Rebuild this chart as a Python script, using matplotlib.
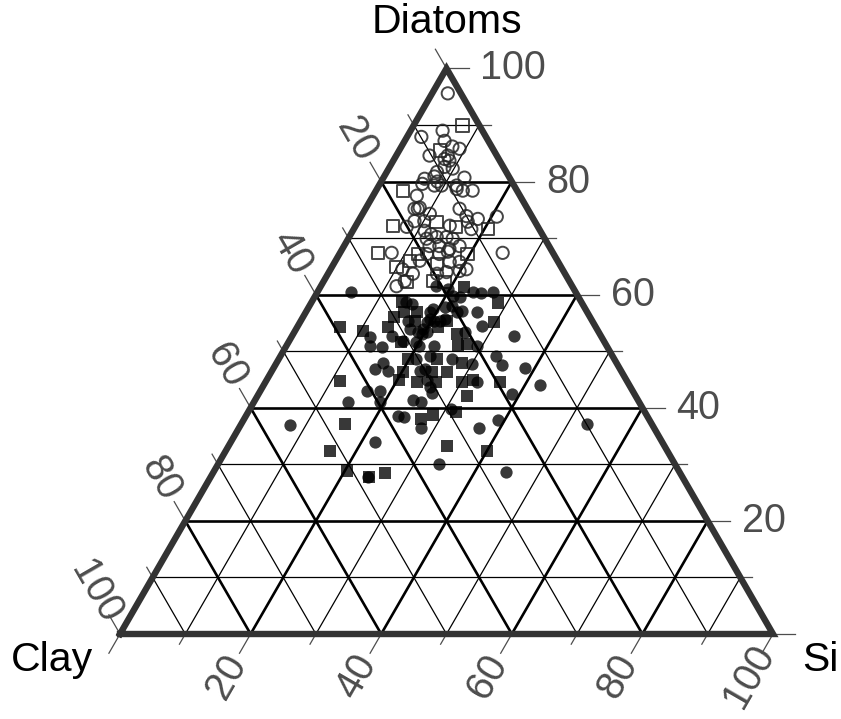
import numpy as np
import matplotlib
matplotlib.use("Agg")
import matplotlib.pyplot as plt

plt.rcParams['font.family'] = ['Liberation Sans', 'DejaVu Sans']

# ---- data: (Diatoms %, Si %) ; Clay = 100 - Diatoms - Si ----
open_circ_d = [95.6, 89.0, 87.9, 87.2, 86.2, 85.8, 84.6, 84.6, 84.0, 83.7, 82.3, 82.6, 81.7, 80.9,
               80.5, 80.7, 80.0, 79.3, 79.3, 79.3, 79.6, 78.4, 78.7, 78.4, 77.5, 75.2, 75.2, 75.4,
               74.3, 75.2, 73.9, 73.4, 73.8, 72.9, 72.0, 73.0, 73.0, 72.2, 71.6, 71.3, 70.7, 69.9,
               70.2, 70.2, 69.9, 68.6, 68.6, 68.1, 68.6, 67.4, 67.2, 67.2, 67.6, 66.0, 67.4, 64.5,
               63.7, 62.4, 61.5, 65.8, 65.8, 64.5, 64.0, 64.2, 63.7]
open_circ_s = [2.4, 4.9, 2.2, 6.1, 7.8, 9.1, 7.9, 5.1, 7.7, 8.6, 9.8, 8.4, 7.7, 7.7,
               6.4, 12.4, 8.6, 11.9, 8.5, 9.6, 6.5, 13.3, 12.2, 14.8, 6.7, 7.5, 8.0, 8.2,
               10.3, 14.4, 16.1, 18.1, 20.8, 16.8, 7.9, 8.6, 10.1, 14.4, 18.0, 11.0, 12.3, 12.0,
               13.4, 14.9, 16.0, 13.1, 14.6, 16.4, 17.7, 7.9, 13.4, 15.3, 16.4, 12.9, 24.9, 11.0,
               13.0, 12.4, 11.6, 17.6, 19.1, 20.8, 18.0, 19.9, 16.7]

open_sq_d = [89.9, 85.5, 78.4, 72.2, 72.9, 72.0, 71.6, 67.4, 66.0, 67.2, 67.2, 64.9, 65.4, 62.4, 62.2, 62.2]
open_sq_s = [7.5, 6.2, 4.1, 5.7, 12.0, 15.5, 20.5, 5.8, 11.4, 12.0, 19.6, 9.9, 15.9, 16.7, 18.6, 12.8]

fill_circ_d = [60.5, 60.5, 60.3, 60.5, 61.5, 61.0, 59.8, 59.6, 58.7, 58.3, 57.4, 56.9, 57.8, 58.0,
               57.1, 56.9, 56.9, 55.3, 55.1, 55.7, 55.3, 55.3, 55.7, 54.4, 53.9, 53.9, 53.4, 53.0,
               53.4, 53.4, 52.5, 52.7, 51.8, 51.6, 52.7, 50.9, 50.7, 50.9, 50.9, 50.9, 49.1, 48.6,
               49.1, 48.6, 48.0, 46.8, 46.5, 46.5, 46.8, 47.5, 47.0, 47.7, 45.0, 44.5, 44.1, 42.9,
               42.9, 43.6, 42.7, 42.4, 41.1, 41.1, 41.3, 41.1, 36.9, 38.5, 38.3, 36.5, 39.7, 36.5,
               37.8, 37.2, 33.9, 30.1, 27.7, 28.7]
fill_circ_s = [5.2, 23.8, 25.2, 26.8, 17.7, 19.7, 21.1, 22.2, 14.4, 15.5, 19.2, 19.0, 20.8, 21.9,
               23.8, 23.1, 26.2, 16.4, 19.4, 19.6, 20.5, 21.3, 21.9, 28.2, 17.4, 19.4, 18.9, 19.8,
               20.3, 26.1, 12.0, 15.3, 17.4, 19.6, 34.0, 12.8, 14.7, 20.4, 22.7, 29.2, 33.1, 21.1,
               22.9, 26.5, 16.2, 15.6, 17.8, 22.7, 23.3, 34.7, 38.5, 30.0, 24.5, 32.4, 42.2, 16.3,
               18.3, 25.6, 26.5, 38.8, 14.3, 19.2, 24.2, 25.6, 7.6, 23.3, 24.3, 27.8, 30.8, 36.7,
               39.0, 52.9, 22.1, 33.8, 24.1, 44.7]

fill_sq_d = [61.3, 58.7, 58.5, 56.9, 56.9, 56.0, 55.3, 55.3, 54.3, 55.1, 53.5, 54.3, 54.3, 53.0,
             51.6, 50.9, 51.2, 48.6, 48.6, 48.0, 46.3, 46.3, 46.3, 44.7, 45.0, 44.5, 44.5, 44.5,
             45.0, 44.5, 42.0, 37.1, 38.1, 38.8, 39.2, 32.4, 33.2, 32.3, 28.9, 27.8, 28.5]
fill_sq_s = [22.1, 13.8, 28.6, 15.1, 17.1, 14.0, 17.5, 22.4, 6.5, 29.8, 10.4, 13.9, 21.5, 25.1,
             17.3, 26.3, 27.5, 19.8, 24.2, 28.3, 20.2, 24.7, 26.9, 11.3, 20.3, 23.2, 26.2, 30.1,
             31.5, 35.9, 32.1, 15.9, 27.0, 28.5, 31.8, 15.9, 33.5, 40.0, 20.3, 24.2, 26.4]

grid_values = list(range(10, 100, 10))
tick_values = list(range(0, 101, 10))
label_values = [20, 40, 60, 80, 100]
axis_titles = ["Diatoms", "Clay", "Si"]

H = np.sqrt(3) / 2


def proj(d, s):
    d = np.asarray(d, float) / 100.0
    s = np.asarray(s, float) / 100.0
    return s + d / 2.0, d * H


fig = plt.figure(figsize=(8.41, 7.19), dpi=100)
ax = fig.add_axes([0, 0, 1, 1])
ax.set_xlim(-120 / 653, (841 - 120) / 653)
ax.set_ylim((634 - 719) / 653, 634 / 653)
ax.axis('off')

# grid
for v in grid_values:
    lw = 1.9 if v % 20 == 0 else 0.9
    # constant Diatoms
    x, y = proj([v, v], [0, 100 - v])
    ax.plot(x, y, color='black', lw=lw, zorder=1, solid_capstyle='butt')
    # constant Si
    x, y = proj([0, 100 - v], [v, v])
    ax.plot(x, y, color='black', lw=lw, zorder=1, solid_capstyle='butt')
    # constant Clay
    x, y = proj([0, 100 - v], [100 - v, 0])
    ax.plot(x, y, color='black', lw=lw, zorder=1, solid_capstyle='butt')

# ticks and labels
tick_col = '#4d4d4d'
Lmaj, Lmin = 0.034, 0.018
lab_fs = 28.5
for v in tick_values:
    L = Lmaj if v % 20 == 0 else Lmin
    # Diatoms (right edge), horizontal outward
    x0, y0 = proj(v, 100 - v)
    ax.plot([x0, x0 + L], [y0, y0], color=tick_col, lw=0.9, zorder=1)
    # Clay (left edge), outward up-left
    x0, y0 = proj(100 - v, 0)
    ax.plot([x0, x0 - 0.5 * L], [y0, y0 + H * L], color=tick_col, lw=0.9, zorder=1)
    # Si (bottom edge), outward down-left
    x0, y0 = proj(0, v)
    ax.plot([x0, x0 - 0.5 * L], [y0, y0 - H * L], color=tick_col, lw=0.9, zorder=1)

for v in label_values:
    x0, y0 = proj(v, 100 - v)
    ax.text(x0 + 0.052, y0, str(v), ha='left', va='center', fontsize=lab_fs, color=tick_col)
    x0, y0 = proj(100 - v, 0)
    dist = 0.075
    ax.text(x0 - 0.5 * dist, y0 + H * dist, str(v), ha='center', va='center', rotation=-60,
            rotation_mode='anchor', fontsize=lab_fs, color=tick_col)
    x0, y0 = proj(0, v)
    ax.text(x0 - 0.5 * dist, y0 - H * dist, str(v), ha='center', va='center', rotation=60,
            rotation_mode='anchor', fontsize=lab_fs, color=tick_col)

# border
bx, by = proj([0, 0, 100, 0], [0, 100, 0, 0])
ax.plot(bx, by, color='#333333', lw=4.6, zorder=2, solid_joinstyle='miter')

# titles
ax.text(0.5, 0.937, axis_titles[0], ha='center', va='center', fontsize=29.5, color='black')
ax.text(-0.104, -0.040, axis_titles[1], ha='center', va='center', fontsize=29.5, color='black')
ax.text(1.072, -0.040, axis_titles[2], ha='center', va='center', fontsize=29.5, color='black')

# points
ms = 78
x, y = proj(open_circ_d, open_circ_s)
ax.scatter(x, y, s=ms, marker='o', facecolors='none', edgecolors='#262626', linewidths=1.4,
           alpha=0.85, zorder=3)
x, y = proj(open_sq_d, open_sq_s)
ax.scatter(x, y, s=ms, marker='s', facecolors='none', edgecolors='#262626', linewidths=1.4,
           alpha=0.85, zorder=3)
x, y = proj(fill_circ_d, fill_circ_s)
ax.scatter(x, y, s=ms, marker='o', color='black', linewidths=0, alpha=0.78, zorder=3)
x, y = proj(fill_sq_d, fill_sq_s)
ax.scatter(x, y, s=ms, marker='s', color='black', linewidths=0, alpha=0.78, zorder=3)

fig.savefig('out.png', dpi=100)
